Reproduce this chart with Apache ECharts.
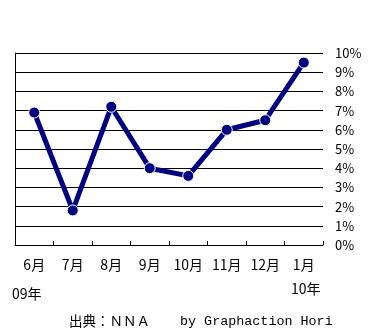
<!DOCTYPE html>
<html><head><meta charset="utf-8">
<script src="https://cdn.jsdelivr.net/npm/echarts@6/dist/echarts.min.js"></script>
<style>html,body{margin:0;padding:0;background:#fff}#c{width:385px;height:334px}</style>
</head><body><div id="c"></div>
<script>
const categories = ['6月','7月','8月','9月','10月','11月','12月','1月'];
const values = [6.9, 1.8, 7.2, 4.0, 3.6, 6.0, 6.5, 9.5];
const yMin = 0, yMax = 10, yStep = 1;
const fontJP = '"Noto Sans CJK JP", "Noto Sans", sans-serif';
const chart = echarts.init(document.getElementById('c'), null, {renderer:'canvas'});
chart.setOption({
  animation: false,
  backgroundColor: '#fff',
  grid: {left: 15, right: 62, top: 53, bottom: 89, containLabel: false},
  xAxis: {
    type: 'category', data: categories, boundaryGap: true,
    axisLine: {show: true, lineStyle: {color: '#000', width: 1}},
    axisTick: {show: true, inside: true, length: 4, lineStyle: {color: '#000'}},
    axisLabel: {color: '#000', fontSize: 14, fontFamily: fontJP, margin: 13}
  },
  yAxis: [{
    type: 'value', position: 'right', min: yMin, max: yMax, interval: yStep,
    axisLine: {show: false}, axisTick: {show: false},
    splitLine: {show: true, lineStyle: {color: '#000', width: 1}},
    axisLabel: {color: '#000', fontSize: 13, fontFamily: fontJP, margin: 12, formatter: v => v + '%'}
  },{
    type: 'value', position: 'left', min: yMin, max: yMax, interval: yStep,
    axisLine: {show: true, lineStyle: {color: '#000', width: 1}}, axisTick: {show: false},
    splitLine: {show: false}, axisLabel: {show: false}
  }],
  series: [{
    type: 'line', data: values, yAxisIndex: 0,
    lineStyle: {color: '#000080', width: 5},
    itemStyle: {color: '#000080', borderColor: '#fff', borderWidth: 1},
    symbol: 'circle', symbolSize: 11
  }],
  graphic: [
    {type:'text', left: 12, top: 287, style:{text:'09年', fill:'#000', font:'14px '+fontJP}},
    {type:'text', left: 291, top: 282, style:{text:'10年', fill:'#000', font:'14px '+fontJP}},
    {type:'text', left: 69, top: 314, style:{text:'出典：ＮＮＡ', fill:'#000', font:'13.5px '+fontJP}},
    {type:'text', left: 180, top: 315, style:{text:'by Graphaction Hori', fill:'#000', font:'13.4px "Liberation Mono", "DejaVu Sans Mono", monospace'}}
  ]
});
</script></body></html>
